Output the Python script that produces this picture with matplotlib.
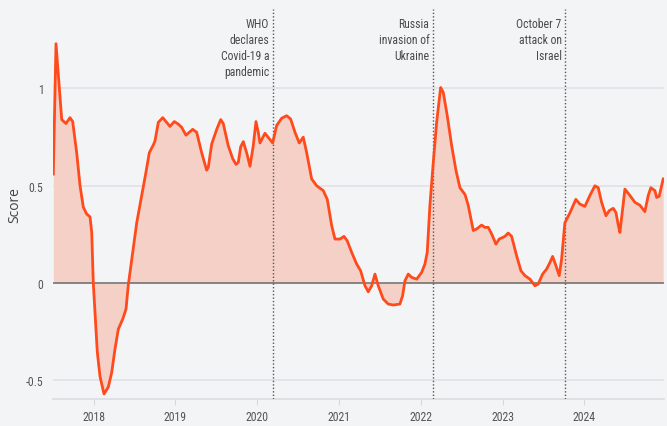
import matplotlib
matplotlib.use("Agg")
import matplotlib.pyplot as plt
import numpy as np

plt.rcParams['font.family'] = ['Liberation Sans Narrow', 'Roboto Condensed', 'Roboto', 'DejaVu Sans']

# decimal years
years = [2017.506, 2017.539, 2017.579, 2017.609, 2017.661, 2017.710, 2017.743, 2017.792,
         2017.833, 2017.873, 2017.914, 2017.955, 2017.976, 2017.995, 2018.016, 2018.044,
         2018.077, 2018.126, 2018.178, 2018.220, 2018.260, 2018.301, 2018.355, 2018.395,
         2018.423, 2018.465, 2018.526, 2018.587, 2018.639, 2018.680, 2018.729, 2018.749,
         2018.790, 2018.844, 2018.892, 2018.933, 2018.985, 2019.034, 2019.076, 2019.128,
         2019.210, 2019.259, 2019.320, 2019.381, 2019.401, 2019.443, 2019.504, 2019.553,
         2019.584, 2019.645, 2019.699, 2019.740, 2019.768, 2019.797, 2019.829, 2019.870,
         2019.911, 2019.951, 2019.984, 2020.012, 2020.033, 2020.094, 2020.188, 2020.237,
         2020.298, 2020.359, 2020.408, 2020.461, 2020.513, 2020.562, 2020.604, 2020.665,
         2020.726, 2020.807, 2020.856, 2020.910, 2020.950, 2021.011, 2021.060, 2021.100,
         2021.154, 2021.215, 2021.264, 2021.317, 2021.357, 2021.399, 2021.439, 2021.479,
         2021.540, 2021.601, 2021.663, 2021.744, 2021.777, 2021.806, 2021.846, 2021.888,
         2021.949, 2022.010, 2022.050, 2022.078, 2022.111, 2022.152, 2022.193, 2022.242,
         2022.274, 2022.323, 2022.377, 2022.429, 2022.478, 2022.540, 2022.579, 2022.641,
         2022.682, 2022.743, 2022.784, 2022.824, 2022.866, 2022.918, 2022.958, 2023.028,
         2023.068, 2023.110, 2023.171, 2023.224, 2023.273, 2023.334, 2023.395, 2023.435,
         2023.489, 2023.538, 2023.579, 2023.611, 2023.652, 2023.692, 2023.721, 2023.761,
         2023.822, 2023.895, 2023.944, 2024.006, 2024.067, 2024.128, 2024.169, 2024.210,
         2024.263, 2024.303, 2024.352, 2024.385, 2024.413, 2024.434, 2024.467, 2024.495,
         2024.556, 2024.617, 2024.678, 2024.739, 2024.780, 2024.812, 2024.862, 2024.883,
         2024.914, 2024.963]

scores = [0.56, 1.23, 1.01, 0.84, 0.82, 0.85, 0.83, 0.67,
          0.50, 0.39, 0.355, 0.34, 0.26, 0.0, -0.15, -0.355,
          -0.48, -0.57, -0.535, -0.46, -0.34, -0.237, -0.185, -0.134,
          -0.01, 0.12, 0.31, 0.45, 0.57, 0.67, 0.71, 0.73,
          0.826, 0.85, 0.826, 0.805, 0.83, 0.817, 0.80, 0.76,
          0.79, 0.775, 0.67, 0.58, 0.595, 0.715, 0.79, 0.84,
          0.82, 0.706, 0.64, 0.61, 0.62, 0.70, 0.727, 0.67,
          0.60, 0.706, 0.83, 0.775, 0.72, 0.77, 0.72, 0.81,
          0.847, 0.86, 0.843, 0.775, 0.72, 0.75, 0.67, 0.535,
          0.50, 0.475, 0.43, 0.295, 0.226, 0.226, 0.24, 0.217,
          0.158, 0.098, 0.063, -0.014, -0.045, -0.014, 0.046, -0.014,
          -0.082, -0.108, -0.113, -0.108, -0.065, 0.012, 0.046, 0.029,
          0.02, 0.055, 0.098, 0.158, 0.40, 0.62, 0.826, 1.005,
          0.98, 0.86, 0.706, 0.58, 0.49, 0.455, 0.40, 0.27,
          0.278, 0.298, 0.286, 0.286, 0.252, 0.20, 0.226, 0.24,
          0.257, 0.24, 0.14, 0.063, 0.038, 0.02, -0.014, -0.005,
          0.046, 0.072, 0.106, 0.137, 0.089, 0.038, 0.123, 0.31,
          0.36, 0.43, 0.406, 0.394, 0.45, 0.50, 0.49, 0.415,
          0.346, 0.372, 0.384, 0.363, 0.30, 0.26, 0.38, 0.483,
          0.45, 0.415, 0.40, 0.367, 0.45, 0.49, 0.475, 0.44,
          0.446, 0.535]

tick_years = [2018, 2019, 2020, 2021, 2022, 2023, 2024]
tick_labels = ["2018", "2019", "2020", "2021", "2022", "2023", "2024"]
ytick_vals = [-0.5, 0, 0.5, 1]
ytick_labels = ["-0.5", "0", "0.5", "1"]

event_years = [2020.19, 2022.15, 2023.767]
event_labels = ["WHO\ndeclares\nCovid-19 a\npandemic",
                "Russia\ninvasion of\nUkraine",
                "October 7\nattack on\nIsrael"]

BG = "#f3f4f6"
LINE = "#ff4a1c"
FILL = "#f5d0c7"

fig = plt.figure(figsize=(6.67, 4.27), dpi=100, facecolor=BG)
ax = fig.add_axes([53.3 / 667, 1 - 400 / 427, (664 - 53.3) / 667, 400 / 427])
ax.set_facecolor(BG)

x = np.array(years)
y = np.array(scores)

ax.fill_between(x, 0, y, color=FILL, linewidth=0, zorder=1)
for yv in [-0.5, 0.5, 1]:
    ax.axhline(yv, color="#e0e1e4", lw=1.2, zorder=0.5)
ax.axhline(0, color="#6b6b6b", lw=1.1, zorder=2)
ax.plot(x, y, color=LINE, lw=2.0, zorder=4, solid_joinstyle="round")

ax.set_xlim(2017.506, 2024.973)
ax.set_ylim(-0.596, 1.46)

for ev, lab in zip(event_years, event_labels):
    ax.axvline(ev, ymin=0, ymax=(400 - 10) / 400, color="#555555", lw=1.0,
               linestyle=(0, (1, 1.5)), zorder=3)
    ax.text(ev - 0.045, 1.365, lab, ha="right", va="top", fontsize=8.5,
            color="#4a4a4a", linespacing=1.3, zorder=5)

ax.set_xticks(tick_years)
ax.set_xticklabels(tick_labels)
ax.set_yticks(ytick_vals)
ax.set_yticklabels(ytick_labels)
ax.tick_params(axis="x", length=4, color="#d8d9dc", labelsize=8.5, labelcolor="#555555", pad=4)
ax.tick_params(axis="y", length=0, labelsize=8.5, labelcolor="#555555", pad=7)

for s in ["top", "right", "left"]:
    ax.spines[s].set_visible(False)
ax.spines["bottom"].set_color("#dcdde0")
ax.spines["bottom"].set_linewidth(1.2)

ax.set_ylabel("Score", fontsize=10, color="#444444", family=["Open Sans", "DejaVu Sans"])
ax.yaxis.set_label_coords(-0.051, 0.4875)

fig.savefig("out.png", dpi=100, facecolor=BG)
